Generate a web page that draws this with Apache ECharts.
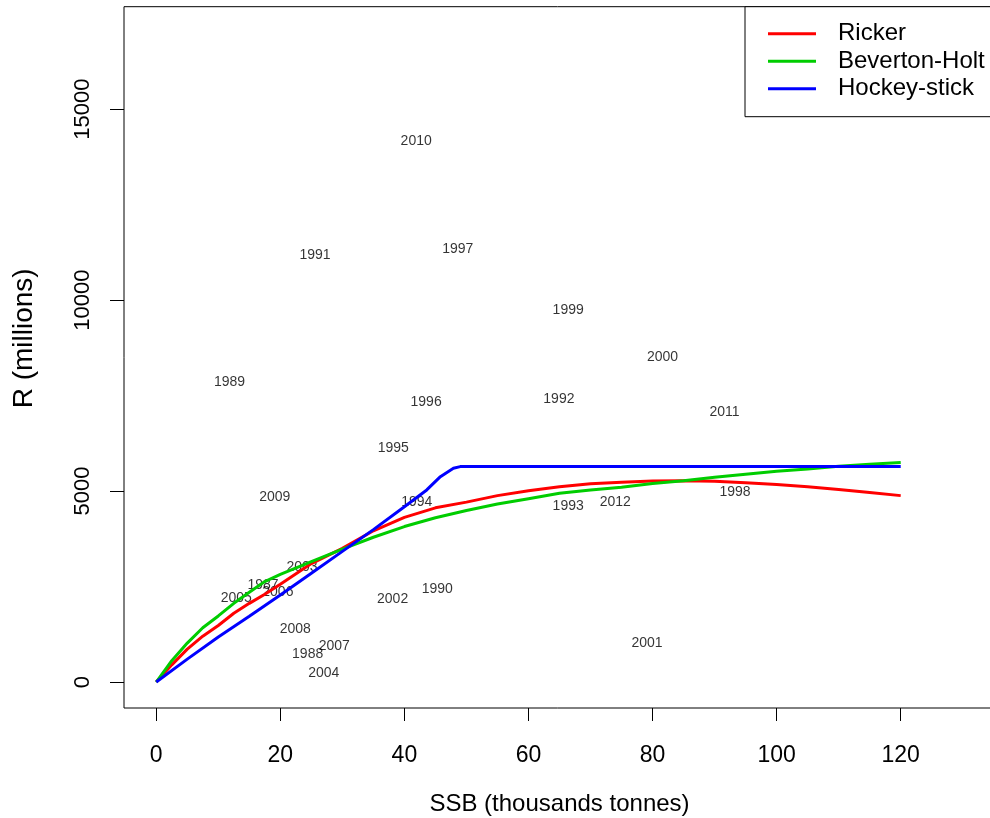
<!DOCTYPE html>
<html>
<head>
<meta charset="utf-8">
<script src="https://cdn.jsdelivr.net/npm/echarts@6/dist/echarts.min.js"></script>
<style>
html,body{margin:0;padding:0;background:#fff;}
#chart{width:990px;height:818px;}
</style>
</head>
<body>
<div id="chart"></div>
<script>
// ---- data ----
const years   = ['2010','1991','1997','1989','1996','1995','2009','1994','1999','2000','1992','2011','1998','1993','2012','2003','1987','2005','2006','2002','1990','2008','2007','1988','2004','2001'];
const yearSSB = [41.9, 25.6, 48.6, 11.8, 43.5, 38.2, 19.1, 42.0, 66.4, 81.6, 64.9, 91.6, 93.3, 66.4, 74.0, 23.5, 17.2, 12.9, 19.6, 38.1, 45.3, 22.4, 28.7, 24.4, 27.0, 79.1];
const yearR   = [14151, 11184, 11341, 7839, 7315, 6111, 4853, 4722, 9725, 8494, 7404, 7053, 4969, 4610, 4707, 3020, 2541, 2192, 2365, 2174, 2444, 1380, 951, 733, 244, 1014];

const curveSSB = [0, 2.5, 5, 7.5, 10, 12.5, 15, 17.5, 20, 25, 30, 35, 40, 45, 50, 55, 60, 65, 70, 75, 80, 85, 90, 95, 100, 105, 110, 115, 120];
const rickerR  = [0, 450, 860, 1200, 1480, 1800, 2060, 2300, 2560, 3100, 3500, 3960, 4310, 4560, 4710, 4880, 5010, 5115, 5190, 5230, 5265, 5270, 5255, 5220, 5170, 5110, 5040, 4960, 4880];
const bevholtR = [0, 560, 1020, 1420, 1730, 2060, 2350, 2630, 2820, 3150, 3480, 3790, 4070, 4300, 4490, 4660, 4800, 4940, 5030, 5100, 5200, 5270, 5360, 5440, 5520, 5580, 5650, 5700, 5750];

const hockeySSB = [0, 5, 10, 15, 20, 25, 30, 35, 40, 43.6, 45.8, 47.9, 49, 120];
const hockeyR   = [0, 600, 1180, 1720, 2280, 2850, 3420, 3990, 4590, 5029, 5377, 5597, 5640, 5640];

const xTicks = [0, 20, 40, 60, 80, 100, 120];
const yTicks = [0, 5000, 10000, 15000];

const seriesNames = ['Ricker', 'Beverton-Holt', 'Hockey-stick'];
const seriesColors = ['#FF0000', '#00CD00', '#0000FF'];

// ---- build ----
const zip = (xs, ys) => xs.map((x, i) => [x, ys[i]]);
const FONT = '"Liberation Sans", Arial, Helvetica, sans-serif';

const chart = echarts.init(document.getElementById('chart'), null, {renderer: 'canvas'});
const option = {
  backgroundColor: '#ffffff',
  animation: false,
  textStyle: {fontFamily: FONT, color: '#000'},
  grid: {
    left: 124, right: -5, top: 6.7, bottom: 110,
    containLabel: false, outerBoundsMode: 'none',
    show: true, borderColor: '#000', borderWidth: 1, backgroundColor: 'transparent'
  },
  legend: {
    data: seriesNames,
    left: 745, top: 6.7,
    orient: 'vertical',
    icon: 'rect',
    itemWidth: 48, itemHeight: 3,
    itemGap: -4.5,
    padding: [11, 40, 12, 23],
    borderColor: '#000', borderWidth: 1,
    backgroundColor: '#fff',
    selectedMode: false,
    textStyle: {fontFamily: FONT, fontSize: 24, color: '#000', padding: [8, 0, 0, 17], lineHeight: 24}
  },
  xAxis: {
    type: 'value', min: -5.2, max: 135.2,
    name: 'SSB (thousands tonnes)', nameLocation: 'middle', nameGap: 84,
    nameTextStyle: {fontFamily: FONT, fontSize: 24, color: '#000'},
    axisLine: {show: false, onZero: false},
    axisTick: {show: true, length: 13, lineStyle: {color: '#000', width: 1}, customValues: xTicks},
    axisLabel: {fontFamily: FONT, fontSize: 23, color: '#000', margin: 36, customValues: xTicks,
      formatter: v => String(v)},
    splitLine: {show: false}
  },
  yAxis: {
    type: 'value', min: -680, max: 17680,
    name: 'R (millions)', nameLocation: 'middle', nameGap: 86,
    nameTextStyle: {fontFamily: FONT, fontSize: 28, color: '#000', padding: [0, 0, 0, 38]},
    axisLine: {show: false, onZero: false},
    axisTick: {show: true, length: 14, lineStyle: {color: '#000', width: 1}, customValues: yTicks},
    axisLabel: {fontFamily: FONT, fontSize: 22, color: '#000', rotate: 90, margin: 30, customValues: yTicks,
      formatter: v => String(v)},
    splitLine: {show: false}
  },
  series: [
    {
      type: 'scatter', name: 'years', z: 1, silent: true,
      symbolSize: 1, itemStyle: {color: 'rgba(0,0,0,0)'},
      data: years.map((y, i) => ({name: y, value: [yearSSB[i], yearR[i]]})),
      label: {show: true, position: 'inside', formatter: p => p.name,
        fontFamily: FONT, fontSize: 14, color: '#000'}
    },
    {type: 'line', name: seriesNames[0], z: 3, data: zip(curveSSB, rickerR), symbol: 'none', silent: true,
      lineStyle: {color: seriesColors[0], width: 3}, itemStyle: {color: seriesColors[0]}},
    {type: 'line', name: seriesNames[1], z: 3, data: zip(curveSSB, bevholtR), symbol: 'none', silent: true,
      lineStyle: {color: seriesColors[1], width: 3}, itemStyle: {color: seriesColors[1]}},
    {type: 'line', name: seriesNames[2], z: 3, data: zip(hockeySSB, hockeyR), symbol: 'none', silent: true,
      lineStyle: {color: seriesColors[2], width: 3}, itemStyle: {color: seriesColors[2]}}
  ]
};
chart.setOption(option);
</script>
</body>
</html>
